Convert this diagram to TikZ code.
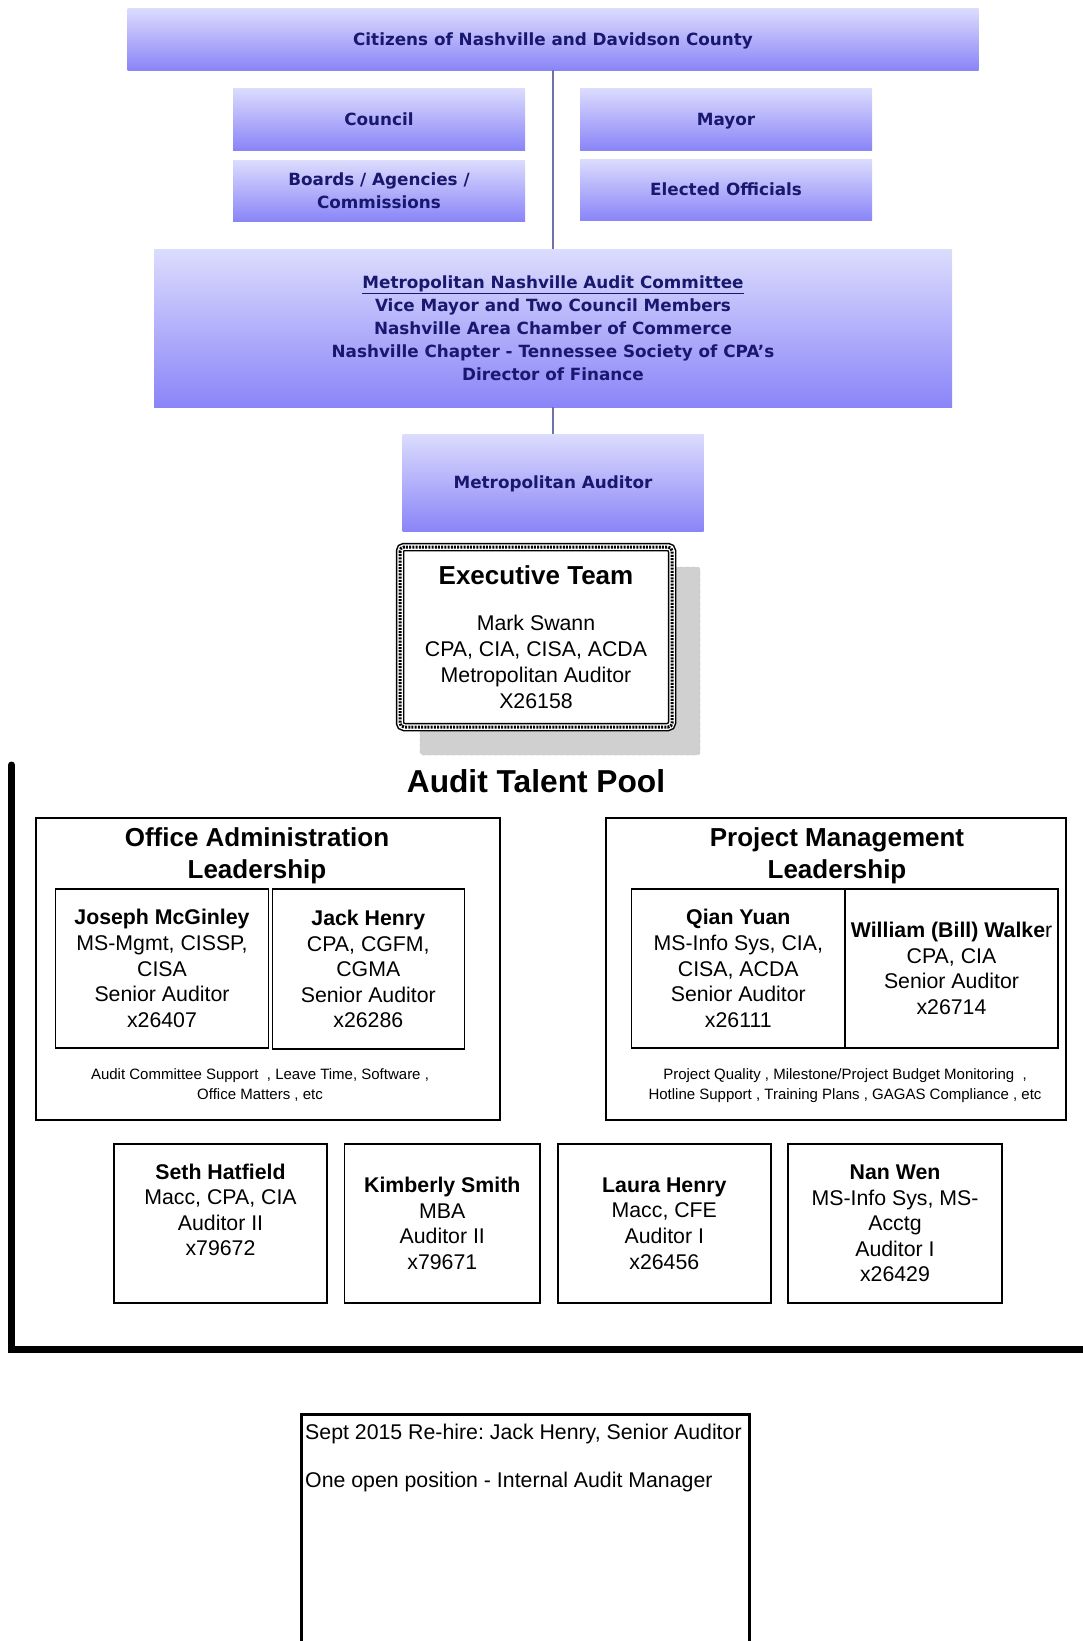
\documentclass[tikz,border=0pt]{standalone}
\usepackage{fontspec}
\setmainfont{Liberation Sans}
\newfontfamily\topfont{DejaVu Sans}
\frenchspacing
\definecolor{gtop}{RGB}{220,220,253}
\definecolor{gbot}{RGB}{138,133,248}
\definecolor{navy}{RGB}{24,24,110}
\definecolor{conn}{RGB}{112,112,170}
\definecolor{shadowgray}{RGB}{208,208,208}
\definecolor{shadowedge}{RGB}{185,185,185}
\begin{document}
\begin{tikzpicture}[x=1pt,y=-1pt,
  gbox/.style={top color=gtop, bottom color=gbot, draw=none, inner sep=0pt, outer sep=0pt,
    font=\topfont\bfseries\fontsize{16.8}{23}\selectfont, text=navy, align=center},
  onel/.style={text depth=0pt},
  pbox/.style={draw=black, line width=1.5pt, inner sep=0pt, outer sep=0pt, align=center,
    font=\fontsize{21.3}{25.6}\selectfont},
  frame/.style={draw=black, line width=1.5pt, inner sep=0pt, outer sep=0pt},
  grouptitle/.style={inner sep=0pt, align=center, font=\bfseries\fontsize{26}{32}\selectfont},
  foot/.style={inner sep=0pt, align=center, font=\fontsize{15}{20}\selectfont},
  conline/.style={draw=conn, line width=2pt},
  txt/.style={inner sep=0pt, font=\fontsize{21.3}{25.6}\selectfont}
]
\useasboundingbox (0,0) rectangle (1083,1641);

% top governance boxes
\node[gbox, onel, minimum width=851, minimum height=62] (cit) at (553,39) {Citizens of Nashville and Davidson County};
\node[gbox, onel, minimum width=292, minimum height=62] (council) at (379,119) {Council};
\node[gbox, onel, minimum width=292, minimum height=62] (mayor) at (726,119) {Mayor};
\node[gbox, minimum width=292, minimum height=61] (boards) at (379,190.5) {Boards / Agencies /\\Commissions};
\node[gbox, onel, minimum width=292, minimum height=61] (elected) at (726,189.5) {Elected Officials};
\node[gbox, minimum width=798, minimum height=158] (comm) at (553,328) {\underline{Metropolitan Nashville Audit Committee}\\Vice Mayor and Two Council Members\\Nashville Area Chamber of Commerce\\Nashville Chapter - Tennessee Society of CPA’s\\Director of Finance};
\node[gbox, onel, minimum width=301, minimum height=97] (maud) at (553,482.5) {Metropolitan Auditor};
\draw[conline] (cit.south) -- (comm.north);
\draw[conline] (comm.south) -- (maud.north);

% executive team
\path[fill=shadowgray, draw=shadowedge, dashed, rounded corners=3] (420,567) rectangle (700,755);
\node[fill=white, inner sep=0pt, outer sep=0pt, minimum width=272, minimum height=180, align=center,
  font=\fontsize{21.3}{26}\selectfont] (exec) at (536,637)
  {{\fontsize{26}{26}\selectfont\bfseries Executive Team}\\[19.4pt]Mark Swann\\CPA, CIA, CISA, ACDA\\Metropolitan Auditor\\X26158};
\draw[black, line width=8.5, rounded corners=4] (exec.north west) rectangle (exec.south east);
\draw[white, line width=5.5, rounded corners=4] (exec.north west) rectangle (exec.south east);
\draw[black, line width=3, dash pattern=on 2 off 1.2, rounded corners=4] (exec.north west) rectangle (exec.south east);

\node[inner sep=0pt, font=\bfseries\fontsize{31.7}{36}\selectfont] (atp) at (536,781) {Audit Talent Pool};

% bracket
\coordinate (brtop) at (11.5,765);
\coordinate (brcorner) at (11.5,1349);
\coordinate (brend) at (1095,1349);
\draw[line width=7, line cap=round] (brtop) -- (brcorner) -- (brend);

% office administration
\node[frame, minimum width=464, minimum height=302] (admin) at (268,969) {};
\node[grouptitle] (admint) at (257,856) {Office Administration\\Leadership};
\node[pbox, minimum width=213, minimum height=159] (joseph) at (162,968.5)
  {\textbf{Joseph McGinley}\\MS-Mgmt, CISSP,\\CISA\\Senior Auditor\\x26407};
\node[pbox, minimum width=192, minimum height=160] (jack) at (368.3,969)
  {\textbf{Jack Henry}\\CPA, CGFM,\\CGMA\\Senior Auditor\\x26286};
\node[foot] (adminf) at (260,1085) {Audit Committee Support~ , Leave Time, Software ,\\Office Matters , etc};

% project management
\node[frame, minimum width=460, minimum height=302] (pm) at (836,969) {};
\node[grouptitle] (pmt) at (837,856) {Project Management\\Leadership};
\node[pbox, minimum width=213.3, minimum height=159] (qian) at (738.3,968.5)
  {\textbf{Qian Yuan}\\MS-Info Sys, CIA,\\CISA, ACDA\\Senior Auditor\\x26111};
\node[pbox, minimum width=213, minimum height=159] (william) at (951.5,968.5)
  {\textbf{William (Bill) Walke}r\\CPA, CIA\\Senior Auditor\\x26714};
\node[foot] (pmf) at (845,1086) {Project Quality , Milestone/Project Budget Monitoring~ ,\\Hotline Support , Training Plans , GAGAS Compliance , etc};

% auditors
\node[pbox, minimum width=213, minimum height=159] (seth) at (220.5,1223.5)
  {\textbf{Seth Hatfield}\\Macc, CPA, CIA\\Auditor II\\x79672\\[-6pt]\strut};
\node[pbox, minimum width=195.5, minimum height=159] (kim) at (442.3,1223.5)
  {\textbf{Kimberly Smith}\\MBA\\Auditor II\\x79671};
\node[pbox, minimum width=213, minimum height=159] (laura) at (664.3,1223.5)
  {\textbf{Laura Henry}\\Macc, CFE\\Auditor I\\x26456};
\node[pbox, minimum width=213.6, minimum height=159] (nan) at (895,1223.5)
  {\textbf{Nan Wen}\\MS-Info Sys, MS-\\Acctg\\Auditor I\\x26429};

% note box
\node[draw=black, line width=2.5pt, inner sep=0pt, outer sep=0pt, minimum width=447.6, minimum height=250] (note) at (525.5,1539.3) {};
\node[txt, anchor=west] (note1) at (305,1434) {Sept 2015 Re-hire: Jack Henry, Senior Auditor};
\node[txt, anchor=west] (note2) at (305,1482) {One open position - Internal Audit Manager};
\end{tikzpicture}
\end{document}
